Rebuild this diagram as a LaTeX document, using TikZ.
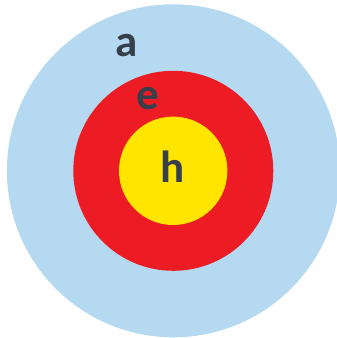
\documentclass[tikz,border=0pt]{standalone}
\usepackage{fontspec}
\setmainfont{Carlito}
\definecolor{outerblue}{HTML}{B5D9F1}
\definecolor{midred}{HTML}{ED1C24}
\definecolor{inneryellow}{HTML}{FFE500}
\definecolor{labelgray}{HTML}{37404A}
\begin{document}
\begin{tikzpicture}[x=1pt,y=1pt,
  lbl/.style={inner sep=0pt,anchor=base,text=labelgray,font=\fontsize{45}{45}\selectfont\bfseries}]
\useasboundingbox (0,0) rectangle (337,338);
\begin{scope}
\clip (0,0) rectangle (337,338);
\fill[outerblue] (173.4,167.2) circle[radius=166.5];
\end{scope}
\fill[midred] (173.3,167.2) circle[radius=100];
\fill[inneryellow] (173.2,167.2) circle[radius=54.2];
\node[lbl] (a) at (126.5,281.5) {a};
\node[lbl] (e) at (147.5,228) {e};
\node[lbl] (h) at (172.5,155) {h};
\end{tikzpicture}
\end{document}
